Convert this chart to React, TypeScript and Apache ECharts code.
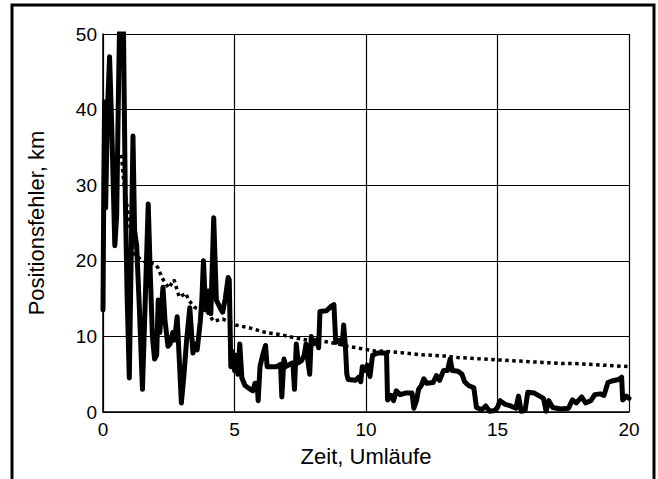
import React, { useEffect, useRef } from "react";
import * as echarts from "echarts";

const xTicks = [0, 5, 10, 15, 20];
const yTicks = [0, 10, 20, 30, 40, 50];

const solidX = [
  0, 0.03, 0.06, 0.1, 0.17, 0.25, 0.33, 0.45, 0.52, 0.6, 0.65, 0.72, 0.78, 0.85, 0.92,
  1.0, 1.06, 1.14, 1.2, 1.28, 1.38, 1.5, 1.6, 1.72, 1.8, 1.88, 1.96,
  2.04, 2.1, 2.16, 2.28, 2.36, 2.47, 2.55, 2.65, 2.72, 2.82, 2.9, 2.98,
  3.08, 3.18, 3.3, 3.42, 3.5, 3.58, 3.7, 3.76, 3.82, 3.9,
  4.0, 4.1, 4.21, 4.31, 4.45, 4.55, 4.65, 4.76, 4.8, 4.86, 4.92,
  5.0, 5.06, 5.13, 5.2, 5.28, 5.4, 5.6, 5.7, 5.78, 5.86, 5.9, 5.97,
  6.07, 6.18, 6.24, 6.4, 6.6, 6.75, 6.8, 6.88, 6.95,
  7.1, 7.22, 7.28, 7.35, 7.42, 7.55, 7.65, 7.72, 7.8, 7.86, 7.92,
  8.0, 8.12, 8.2, 8.25, 8.5, 8.68, 8.78, 8.85,
  9.0, 9.1, 9.15, 9.22, 9.27, 9.32, 9.6, 9.72, 9.8, 9.86, 9.95,
  10.05, 10.15, 10.25, 10.45, 10.78, 10.82, 10.95,
  11.05, 11.15, 11.3, 11.5, 11.75, 11.82, 11.92,
  12.0, 12.1, 12.2, 12.3, 12.55, 12.68, 12.8, 12.95,
  13.1, 13.2, 13.28, 13.5, 13.65, 13.75, 13.9,
  14.1, 14.2, 14.4, 14.55, 14.7, 14.9,
  15.0, 15.1, 15.3, 15.5, 15.7, 15.8, 15.9,
  16.05, 16.15, 16.4, 16.6, 16.75, 16.85, 16.95,
  17.1, 17.4, 17.7, 17.85,
  18.0, 18.2, 18.35, 18.55, 18.7, 18.9,
  19.05, 19.2, 19.35, 19.6, 19.72, 19.76, 19.9, 20.0,
];
const solidY = [
  13.5, 30, 41, 27, 40, 47, 38, 22, 26, 45, 55, 55, 50, 28, 15,
  4.5, 18, 36.5, 24, 22, 14, 3, 14, 27.5, 18, 10, 7,
  7.5, 14.8, 10.5, 16.5, 12, 8.7, 9, 10.5, 9.5, 12.6, 7, 1.2,
  5, 9.5, 13.8, 7.8, 9, 8.2, 12, 15, 20, 13.5,
  16, 13, 25.7, 14.8, 13.8, 13.2, 15, 17.8, 17.5, 6, 8,
  5.5, 7.5, 5, 9, 4.5, 3.5, 3, 2.8, 3.8, 3.8, 1.5, 6,
  7.5, 8.8, 6, 6, 6, 6.3, 2, 7, 6,
  6.3, 6.5, 3, 9, 6.5, 6.8, 7.5, 9, 6.5, 5, 10,
  9, 9.5, 8.5, 13.3, 13.4, 14, 14.2, 9.2,
  9.5, 9, 11.5, 8.5, 5, 4.3, 4.2, 4.6, 4, 6, 5.5,
  6.2, 4.7, 7.5, 7.8, 7.8, 1.6, 2.2,
  1.5, 2.8, 2.3, 2.5, 2.5, 0.5, 1.5,
  3, 3.5, 4.4, 3.8, 3.9, 4.8, 4.2, 5.5,
  5.5, 7, 5.5, 5.4, 5, 4, 3.5,
  3.2, 0.6, 0.3, 0.8, 0.1, 0.2,
  0.6, 1.5, 1, 0.8, 0.5, 2.1, 0.1,
  0.2, 2.6, 2.5, 2.1, 1.8, 0.1, 1.5,
  0.6, 0.4, 0.5, 1.6,
  1.2, 2, 1.2, 1.5, 2.3, 2.4,
  2.2, 3.9, 4.1, 4.3, 4.6, 1.6, 2.1, 1.8,
];

const dottedX = [
  0.7, 0.8, 1.05, 1.15, 1.5, 2.0, 2.1, 2.25, 2.5, 2.7, 2.9, 3.15, 3.25, 3.5, 3.8,
  4.0, 4.2, 4.55, 5.05, 5.6, 6.2, 6.8, 7.3, 7.8, 8.3, 8.8, 9.3, 9.8, 10.3, 10.8,
  11.5, 12, 12.5, 13, 13.5, 14, 14.5, 15, 15.5, 16, 16.5, 17, 17.5, 18, 18.5, 19, 19.5, 20,
];
const dottedY = [
  34, 30, 24, 21, 20, 19.5, 19, 17.7, 16.4, 17.5, 15.2, 15.7, 14.8, 13.8, 13.5,
  13.1, 12, 12.3, 11.5, 11.1, 10.5, 10.2, 9.8, 9.5, 9.4, 9.1, 8.7, 8.4, 8.1, 8.0,
  7.8, 7.6, 7.5, 7.4, 7.2, 7.1, 7.0, 6.9, 6.8, 6.7, 6.6, 6.5, 6.4, 6.4, 6.3, 6.2, 6.1, 6.0,
];

const FONT = "'Liberation Sans', Arial, sans-serif";

export default function App() {
  const ref = useRef<HTMLDivElement>(null);
  useEffect(() => {
    if (!ref.current) return;
    const chart = echarts.init(ref.current, null, { renderer: "svg" });
    const solid = solidX.map((x, i) => [x, solidY[i]]);
    const dotted = dottedX.map((x, i) => [x, dottedY[i]]);
    chart.setOption({
      animation: false,
      backgroundColor: "#fff",
      textStyle: { fontFamily: FONT },
      graphic: [
        {
          type: "rect",
          shape: { x: 12, y: 5, width: 642, height: 520 },
          style: { fill: "none", stroke: "#000", lineWidth: 3 },
          silent: true,
        },
      ],
      grid: { left: 103, top: 34, right: 29, bottom: 67 },
      xAxis: {
        type: "value",
        min: xTicks[0],
        max: xTicks[xTicks.length - 1],
        interval: 5,
        name: "Zeit, Umläufe",
        nameLocation: "middle",
        nameGap: 33,
        nameTextStyle: { color: "#000", fontSize: 22, fontFamily: FONT },
        axisLine: { show: true, onZero: false, lineStyle: { color: "#000", width: 1.5 } },
        axisTick: { show: false },
        axisLabel: { color: "#000", fontSize: 19, margin: 8, fontFamily: FONT },
        splitLine: { show: true, lineStyle: { color: "#000", width: 1.2 } },
      },
      yAxis: {
        type: "value",
        min: yTicks[0],
        max: yTicks[yTicks.length - 1],
        interval: 10,
        name: "Positionsfehler, km",
        nameLocation: "middle",
        nameGap: 56,
        nameTextStyle: { color: "#000", fontSize: 22, fontFamily: FONT },
        axisLine: { show: true, lineStyle: { color: "#000", width: 1.5 } },
        axisTick: { show: false },
        axisLabel: { color: "#000", fontSize: 19, margin: 6, fontFamily: FONT },
        splitLine: { show: true, lineStyle: { color: "#000", width: 1.2 } },
      },
      series: [
        {
          type: "line",
          data: dotted,
          showSymbol: false,
          symbol: "none",
          lineStyle: { color: "#000", width: 3.5, type: [3.5, 3.5], cap: "butt" },
          z: 2,
        },
        {
          type: "line",
          data: solid,
          showSymbol: false,
          symbol: "none",
          clip: true,
          lineStyle: { color: "#000", width: 5, cap: "round", join: "round" },
          z: 3,
        },
      ],
    });
    return () => chart.dispose();
  }, []);
  return (
    <div
      ref={ref}
      style={{ position: "fixed", left: 0, top: 0, width: 658, height: 479, background: "#fff" }}
    />
  );
}
